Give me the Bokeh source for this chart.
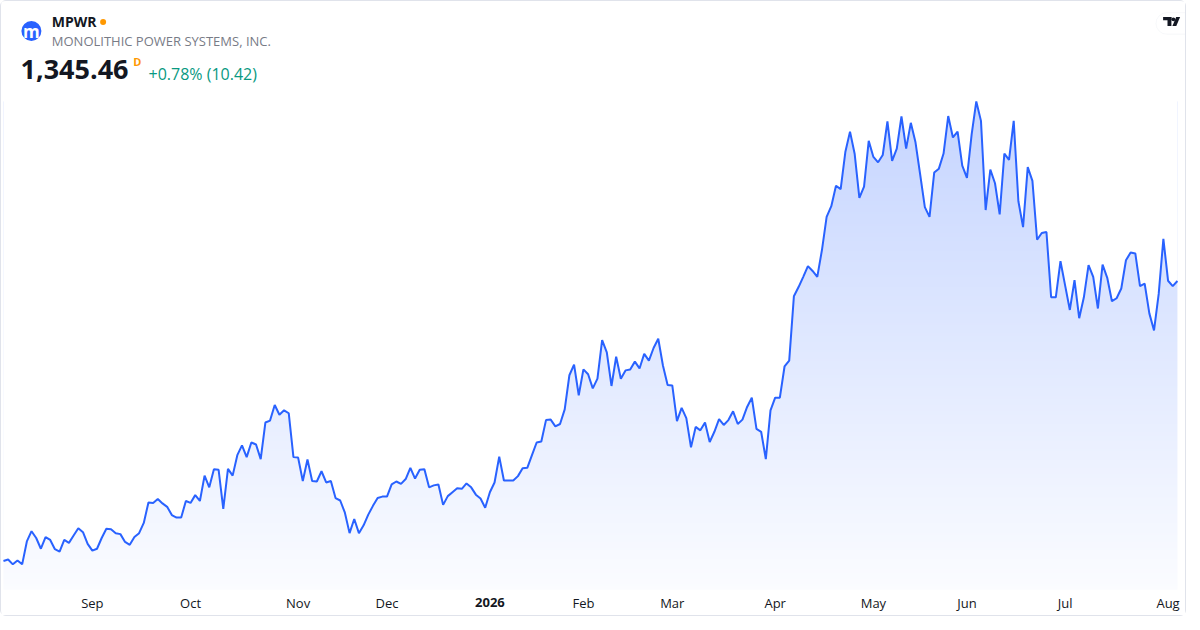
import numpy as np
from bokeh.plotting import figure
from bokeh.models import Range1d, Label, BoxAnnotation, PolyAnnotation, ColumnDataSource
from bokeh.core.properties import value
from bokeh.embed import file_html
from bokeh.resources import INLINE

# ---------------- data ----------------
symbol = "MPWR"
company = "MONOLITHIC POWER SYSTEMS, INC."
last_price = "1,345.46"
interval = "D"
change_text = "+0.78% (10.42)"

# daily closes, one per trading session (Aug 2025 - Aug 2026)
prices = [
    771, 774, 764, 772, 764, 811, 832, 818, 796, 820,
    814, 795, 790, 814, 808, 823, 838, 830, 806, 792,
    796, 818, 837, 836, 828, 826, 810, 804, 820, 828,
    849, 891, 890, 898, 889, 882, 865, 860, 860, 894,
    890, 906, 894, 946, 922, 959, 958, 878, 960, 946,
    988, 1008, 984, 1014, 1010, 980, 1055, 1059, 1091, 1071,
    1080, 1074, 984, 983, 935, 979, 935, 934, 955, 932,
    935, 900, 895, 870, 828, 857, 828, 844, 866, 884,
    900, 903, 903, 928, 934, 929, 939, 962, 940, 958,
    959, 922, 926, 928, 886, 904, 912, 920, 919, 930,
    922, 907, 899, 880, 912, 932, 985, 936, 936, 936,
    945, 961, 962, 988, 1014, 1016, 1060, 1061, 1047, 1052,
    1082, 1152, 1174, 1111, 1164, 1154, 1125, 1145, 1224, 1199,
    1130, 1190, 1145, 1162, 1164, 1180, 1166, 1196, 1182, 1208,
    1227, 1172, 1132, 1131, 1058, 1085, 1064, 1004, 1046, 1039,
    1055, 1015, 1036, 1062, 1050, 1060, 1078, 1052, 1061, 1087,
    1106, 1042, 1036, 980, 1080, 1106, 1106, 1170, 1182, 1314,
    1333, 1354, 1376, 1366, 1354, 1409, 1477, 1499, 1541, 1534,
    1610, 1652, 1606, 1516, 1539, 1633, 1600, 1589, 1604, 1673,
    1592, 1617, 1683, 1617, 1670, 1630, 1564, 1497, 1477, 1568,
    1576, 1607, 1684, 1640, 1652, 1582, 1557, 1646, 1714, 1674,
    1491, 1574, 1546, 1482, 1607, 1594, 1674, 1509, 1456, 1579,
    1551, 1430, 1444, 1446, 1312, 1312, 1386, 1336, 1286, 1347,
    1269, 1312, 1378, 1354, 1289, 1379, 1352, 1304, 1310, 1330,
    1388, 1404, 1402, 1335, 1340, 1279, 1244, 1319, 1432, 1346,
    1335.04, 1345.46,
]

# session index of the first trading day of each month
tick_index = [19, 40, 63, 82, 104, 124, 143, 165, 186, 206, 227, 249]
tick_labels = ["Sep", "Oct", "Nov", "Dec", "2026", "Feb", "Mar", "Apr", "May", "Jun", "Jul", "Aug"]
year_labels = ["2026"]

# ---------------- figure ----------------
FW, FH = 1184, 614
FONT = "Open Sans"

idx = np.arange(len(prices))
y = np.array(prices, dtype=float)
yr_lo, yr_hi = 659.0, 1919.0      # full canvas
fill_floor = 712.3                # bottom of the price pane
label_row = 685.0                 # time-scale row below the pane

p = figure(frame_width=FW, frame_height=FH, output_backend="svg", toolbar_location=None,
           x_range=Range1d(-0.42, 252.73), y_range=Range1d(yr_lo, yr_hi),
           x_axis_location=None, y_axis_location=None,
           min_border_left=0, min_border_right=0, min_border_top=0, min_border_bottom=0)
p.grid.visible = False
p.outline_line_color = None
p.background_fill_color = "white"
p.border_fill_color = "white"
p.styles = {"border": "1px solid #e0e3eb", "border-radius": "6px"}

# gradient fill under the line: vertical gradient image, masked above the line
n = 256
img = np.empty((n, 2), dtype=np.uint32)
view = img.view(dtype=np.uint8).reshape((n, 2, 4))
ymax = y.max()
levels = np.linspace(fill_floor, ymax, n)
alpha = 0.02 + 0.25 * (levels - fill_floor) / (ymax - fill_floor)
view[:, :, 0] = np.round(255 - alpha * (255 - 41))[:, None]
view[:, :, 1] = np.round(255 - alpha * (255 - 98))[:, None]
view[:, :, 2] = 255
view[:, :, 3] = 255
p.image_rgba(image=[img], x=0, y=fill_floor, dw=len(prices) - 1, dh=ymax - fill_floor)

src = ColumnDataSource(dict(x=idx, y=y, top=np.full(len(prices), yr_hi)))
p.varea(x="x", y1="y", y2="top", source=src, fill_color="white")
p.line(x="x", y="y", source=src, line_color="#2962ff", line_width=2)

# time scale labels (month starts; year label bold)
tsrc = ColumnDataSource(dict(
    x=tick_index,
    y=[label_row] * len(tick_index),
    text=tick_labels,
    style=["bold" if l in year_labels else "normal" for l in tick_labels],
))
p.text(x="x", y="y", text="text", source=tsrc, text_align="center", text_baseline="middle",
       text_font=value(FONT), text_font_size=value("13px"), text_font_style="style",
       text_color="#131722")

# ---------------- header ----------------
def sy(canvas_y):
    return FH - canvas_y  # screen units are measured up from the frame bottom

p.add_layout(BoxAnnotation(left=19.9, right=39.9, top=sy(19.5), bottom=sy(39.5),
                           left_units="screen", right_units="screen",
                           top_units="screen", bottom_units="screen",
                           fill_color="#2962ff", fill_alpha=1, line_color=None,
                           border_radius=10))
p.add_layout(Label(x=29.9, y=sy(30.0), x_units="screen", y_units="screen", text="m",
                   text_align="center", text_baseline="middle", text_font=FONT,
                   text_font_size="17px", text_font_style="bold", text_color="white"))

p.add_layout(Label(x=50.3, y=sy(19.6), x_units="screen", y_units="screen", text=symbol,
                   text_baseline="alphabetic", text_font=FONT, text_font_size="14px",
                   text_font_style="bold", text_color="#131722"))
p.add_layout(BoxAnnotation(left=98.6, right=104.6, top=sy(17.5), bottom=sy(23.5),
                           left_units="screen", right_units="screen",
                           top_units="screen", bottom_units="screen",
                           fill_color="#ff9800", fill_alpha=1, line_color=None,
                           border_radius=3))
p.add_layout(Label(x=50.3, y=sy(39.0), x_units="screen", y_units="screen", text=company,
                   text_baseline="alphabetic", text_font=FONT, text_font_size="13px",
                   text_color="#787b86"))
p.add_layout(Label(x=19.0, y=sy(68.4), x_units="screen", y_units="screen", text=last_price,
                   text_baseline="alphabetic", text_font=FONT, text_font_size="27px",
                   text_font_style="bold", text_color="#131722"))
p.add_layout(Label(x=131.7, y=sy(59.8), x_units="screen", y_units="screen", text=interval,
                   text_baseline="alphabetic", text_font=FONT, text_font_size="11px",
                   text_font_style="bold", text_color="#ff9800"))
p.add_layout(Label(x=147.0, y=sy(72.4), x_units="screen", y_units="screen", text=change_text,
                   text_baseline="alphabetic", text_font=FONT, text_font_size="16px",
                   text_color="#089981"))

# TradingView badge (top right)
p.add_layout(BoxAnnotation(left=1154.5, right=1200, top=sy(11.2), bottom=sy(32.7),
                           left_units="screen", right_units="screen",
                           top_units="screen", bottom_units="screen",
                           fill_color="white", fill_alpha=1, line_color="#e6e8ee",
                           line_width=1, border_radius=11))
def box(l, r, t, b, color):
    return BoxAnnotation(left=l, right=r, top=sy(t), bottom=sy(b),
                         left_units="screen", right_units="screen",
                         top_units="screen", bottom_units="screen",
                         fill_color=color, fill_alpha=1, line_color=None)
p.add_layout(box(1161.6, 1169.9, 15.6, 18.8, "#131722"))
p.add_layout(box(1166.0, 1169.9, 15.6, 24.4, "#131722"))
p.add_layout(BoxAnnotation(left=1170.0, right=1173.8, top=sy(15.9), bottom=sy(19.7),
                           left_units="screen", right_units="screen",
                           top_units="screen", bottom_units="screen",
                           fill_color="#131722", fill_alpha=1, line_color=None,
                           border_radius=2))
p.add_layout(PolyAnnotation(xs=[1170.9, 1174.8, 1178.6, 1174.7],
                            ys=[sy(24.4), sy(24.4), sy(15.6), sy(15.6)],
                            xs_units="screen", ys_units="screen",
                            fill_color="#131722", fill_alpha=1, line_color=None))

open("out.html", "w").write(file_html(p, INLINE))
